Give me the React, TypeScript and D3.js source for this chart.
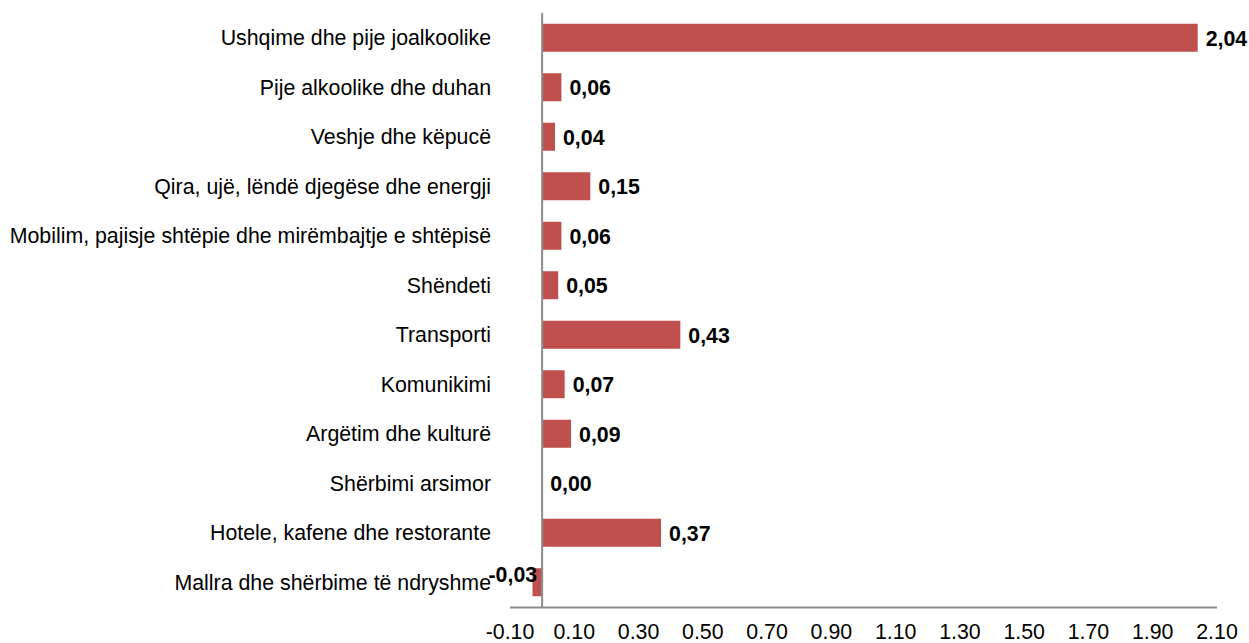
import React, { useRef, useEffect } from 'react';
import * as d3 from 'd3';

const categories = [
  'Ushqime dhe pije joalkoolike',
  'Pije alkoolike dhe duhan',
  'Veshje dhe këpucë',
  'Qira, ujë, lëndë djegëse dhe energji',
  'Mobilim, pajisje shtëpie dhe mirëmbajtje e shtëpisë',
  'Shëndeti',
  'Transporti',
  'Komunikimi',
  'Argëtim dhe kulturë',
  'Shërbimi arsimor',
  'Hotele, kafene dhe restorante',
  'Mallra dhe shërbime të ndryshme',
];
const values = [2.04, 0.06, 0.04, 0.15, 0.06, 0.05, 0.43, 0.07, 0.09, 0.0, 0.37, -0.03];
const tickValues = [-0.1, 0.1, 0.3, 0.5, 0.7, 0.9, 1.1, 1.3, 1.5, 1.7, 1.9, 2.1];

const App = () => {
  const chartRef = useRef(null);

  useEffect(() => {
    const svg = d3.select(chartRef.current);
    svg.selectAll('*').remove();
    const font = 'Liberation Sans, Arial, sans-serif';
    const fontSize = 21.33;

    const x = d3.scaleLinear().domain([-0.1, 2.1]).range([510, 1217]);
    const y = d3.scaleBand()
      .domain(categories)
      .range([13, 607])
      .paddingInner(0.434)
      .paddingOuter(0.217);

    const fmt = (v) => v.toFixed(2).replace('.', ',');

    // bars
    svg.append('g')
      .selectAll('rect')
      .data(values)
      .enter()
      .append('rect')
      .attr('x', (d) => x(Math.min(0, d)))
      .attr('y', (d, i) => y(categories[i]))
      .attr('width', (d) => Math.abs(x(d) - x(0)))
      .attr('height', y.bandwidth())
      .attr('fill', '#C0504D');

    // axis lines
    svg.append('line')
      .attr('x1', x(-0.1)).attr('x2', x(2.1))
      .attr('y1', 607.5).attr('y2', 607.5)
      .attr('stroke', '#8c8c8c').attr('stroke-width', 2);
    svg.append('line')
      .attr('x1', x(0)).attr('x2', x(0))
      .attr('y1', 13).attr('y2', 608)
      .attr('stroke', '#8c8c8c').attr('stroke-width', 2);

    // tick labels
    svg.append('g')
      .selectAll('text')
      .data(tickValues)
      .enter()
      .append('text')
      .attr('x', (d) => x(d))
      .attr('y', 639)
      .attr('text-anchor', 'middle')
      .attr('font-family', font)
      .attr('font-size', fontSize)
      .text((d) => d.toFixed(2));

    // category labels
    svg.append('g')
      .selectAll('text')
      .data(categories)
      .enter()
      .append('text')
      .attr('x', 491)
      .attr('y', (d) => y(d) + y.bandwidth() / 2)
      .attr('dy', '0.35em')
      .attr('text-anchor', 'end')
      .attr('font-family', font)
      .attr('font-size', fontSize)
      .text((d) => d);

    // value labels
    svg.append('g')
      .selectAll('text')
      .data(values)
      .enter()
      .append('text')
      .attr('x', (d) => (d < 0 ? x(0) - 5 : x(d) + 8))
      .attr('y', (d, i) => y(categories[i]) + y.bandwidth() / 2)
      .attr('dy', (d) => (d < 0 ? '0em' : '0.38em'))
      .attr('text-anchor', (d) => (d < 0 ? 'end' : 'start'))
      .attr('font-family', font)
      .attr('font-size', fontSize)
      .attr('font-weight', 'bold')
      .text((d) => fmt(d));
  }, []);

  return (
    <svg
      ref={chartRef}
      width="1249"
      height="643"
      style={{ position: 'absolute', left: 0, top: 0, display: 'block' }}
    ></svg>
  );
};

export default App;
